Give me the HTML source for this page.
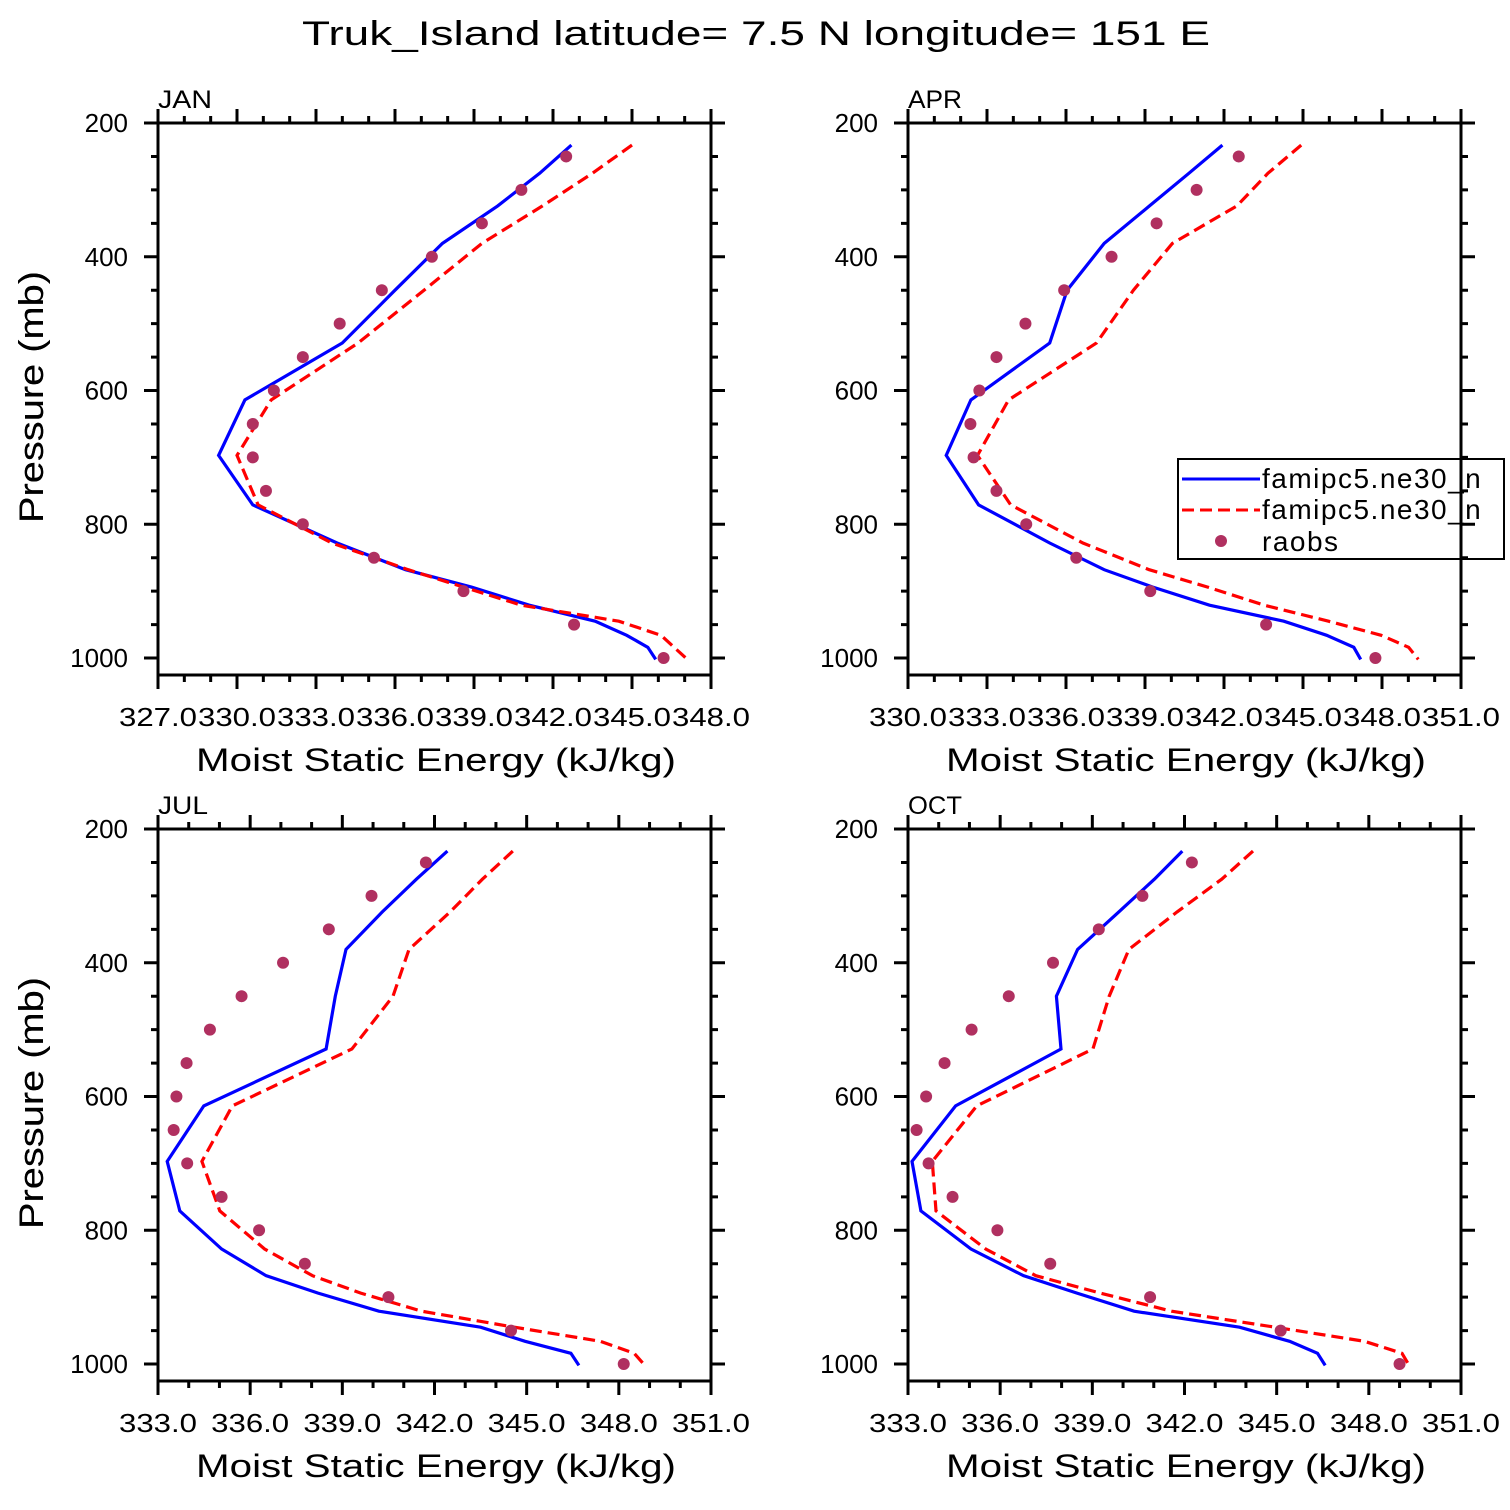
<!DOCTYPE html>
<html><head><meta charset="utf-8"><style>
html,body{margin:0;padding:0;background:#fff}
svg{display:block}
text{font-family:"Liberation Sans","DejaVu Sans",sans-serif;fill:#000}
</style></head><body>
<svg id="chart" width="1510" height="1510" viewBox="0 0 1510 1510" xmlns="http://www.w3.org/2000/svg">
<text x="302" y="45" font-size="34" textLength="908" lengthAdjust="spacingAndGlyphs">Truk_Island  latitude= 7.5 N longitude= 151 E</text>
<g id="plots"></g>
</svg>
<script>
const modelLevels=[233,275,324,380,450,529,614,697,771,828,868,894,921,945,966,984,1002];
const obsLevels=[250,300,350,400,450,500,550,600,650,700,750,800,850,900,950,1000];
const panelNames=["JAN","APR","JUL","OCT"];
const janBlue=[342.7,341.5,339.9,337.8,336.0,334.0,330.3,329.3,330.6,333.8,336.4,338.9,341.1,343.6,344.8,345.6,345.9];
const janRed=[345.0,343.5,341.6,339.3,337.1,334.6,331.3,330.0,330.8,333.6,336.5,338.6,340.8,344.5,346.1,346.6,347.1];
const janObs=[342.5,340.8,339.3,337.4,335.5,333.9,332.5,331.4,330.6,330.6,331.1,332.5,335.2,338.6,342.8,346.2];
const aprBlue=[341.94,340.67,339.17,337.45,336.04,335.38,332.39,331.45,332.68,335.38,337.45,339.30,341.45,344.27,345.90,346.93,347.19];
const aprRed=[344.93,343.67,342.49,340.04,338.56,337.16,333.82,332.64,333.90,336.64,339.16,341.38,343.53,345.97,347.97,349.01,349.38];
const aprObs=[342.56,340.96,339.44,337.73,335.93,334.46,333.36,332.71,332.37,332.49,333.36,334.49,336.39,339.20,343.60,347.75];
const julBlue=[342.42,341.41,340.30,339.12,338.77,338.47,334.49,333.30,333.71,335.07,336.52,338.21,340.19,343.50,344.95,346.44,346.70];
const julRed=[344.55,343.56,342.51,341.17,340.65,339.31,335.42,334.43,335.01,336.47,338.03,339.60,341.58,344.60,347.40,348.50,348.85];
const julObs=[341.72,339.95,338.56,337.07,335.72,334.69,333.93,333.60,333.51,333.95,335.07,336.29,337.78,340.50,344.49,348.16];
const octBlue=[341.93,341.02,339.86,338.52,337.83,337.98,334.55,333.13,333.42,335.05,336.76,338.50,340.36,343.79,345.42,346.33,346.58];
const octRed=[344.23,343.21,341.76,340.19,339.55,339.02,335.24,333.79,333.91,335.53,337.16,339.26,341.58,344.95,347.86,349.08,349.31];
const octObs=[342.24,340.63,339.21,337.72,336.28,335.07,334.19,333.59,333.28,333.67,334.45,335.91,337.63,340.88,345.13,349.00];
const xMins=[327,330,333,333];
const xMaxs=[348,351,351,351];
const yTickLabels=[200,400,600,800,1000];
const legendLabels=["famipc5.ne30_n","famipc5.ne30_n","raobs"];

const NS="http://www.w3.org/2000/svg";
const root=document.getElementById('plots');
function mk(tag,attrs,parent){const e=document.createElementNS(NS,tag);for(const k in attrs)e.setAttribute(k,attrs[k]);(parent||root).appendChild(e);return e;}
const blues=[janBlue,aprBlue,julBlue,octBlue],reds=[janRed,aprRed,julRed,octRed],obs=[janObs,aprObs,julObs,octObs];
const origins=[[158,123],[908,123],[158,829],[908,829]];
const W=553,H=552,pTop=200,pBot=1025.4;

for(let i=0;i<4;i++){
  const [ox,oy]=origins[i];
  const xmin=xMins[i],xmax=xMaxs[i];
  const X=v=>ox+(v-xmin)/(xmax-xmin)*W;
  const Y=p=>oy+(p-pTop)/(pBot-pTop)*H;
  const g=mk('g',{});
  
  
  const lab=mk('text',{x:ox,y:oy-15,'font-size':25,textLength:panelNames[i]==='JUL'?50:54,lengthAdjust:'spacingAndGlyphs'},g);lab.textContent=panelNames[i];
  
  
  let d='';
  for(let v=xmin;v<=xmax+1e-6;v+=1){
    const major=Math.abs((v-xmin)%3)<1e-6; const L=major?14:7; const x=X(v);
    d+=`M${x},${oy+H}v${L}M${x},${oy}v${-L}`;
  }
  for(let p=200;p<=1000;p+=50){
    const major=p%200===0; const L=major?14:7; const y=Y(p);
    d+=`M${ox},${y}h${-L}M${ox+W},${y}h${L}`;
  }
  const tk=mk('path',{d:d,stroke:'#000','stroke-width':3,fill:'none'},g);
  
  
  const box=mk('rect',{x:ox,y:oy,width:W,height:H,fill:'none',stroke:'#000','stroke-width':3},g);
  
  
  for(let v=xmin;v<=xmax+1e-6;v+=3){
    const t=mk('text',{x:X(v)-39,y:oy+H+51,'font-size':26,textLength:78,lengthAdjust:'spacingAndGlyphs'},g);
    t.textContent=v.toFixed(1);
    
    
  }
  yTickLabels.forEach(p=>{
    const t=mk('text',{x:ox-30,y:Y(p)+9,'font-size':26,'text-anchor':'end'},g);
    t.textContent=p;
    
    
  });
  const xt=mk('text',{x:ox+38,y:oy+H+96,'font-size':32,textLength:480,lengthAdjust:'spacingAndGlyphs'},g);
  xt.textContent='Moist Static Energy (kJ/kg)';
  
  
  const ytX=43,ytY=oy+H/2-2;
  const yt=mk('text',{x:ytX,y:ytY,'font-size':34,'text-anchor':'middle',transform:`rotate(-90 ${ytX} ${ytY})`,textLength:252,lengthAdjust:'spacingAndGlyphs'},g);
  yt.textContent='Pressure (mb)';
  
  
  const pts=a=>a.map((v,k)=>X(v).toFixed(1)+','+Y(modelLevels[k]).toFixed(1)).join(' ');
  const bl=mk('polyline',{points:pts(blues[i]),fill:'none',stroke:'#0000ff','stroke-width':3.2},g);
  
  
  const rl=mk('polyline',{points:pts(reds[i]),fill:'none',stroke:'#ff0000','stroke-width':3.2,'stroke-dasharray':'12,6'},g);
  
  
  obs[i].forEach((v,k)=>{
    const c=mk('circle',{cx:X(v),cy:Y(obsLevels[k]),r:6,fill:'#b03060'},g);
    
    
  });
}
const lg=mk('g',{});


mk('path',{d:'M1178,459H1504V559H1178Z',fill:'none',stroke:'#000','stroke-width':2},lg);
mk('line',{x1:1182,y1:479,x2:1260,y2:479,stroke:'#0000ff','stroke-width':3},lg);
mk('line',{x1:1182,y1:510,x2:1260,y2:510,stroke:'#ff0000','stroke-width':3,'stroke-dasharray':'12,6'},lg);
mk('circle',{cx:1221,cy:541,r:6,fill:'#b03060'},lg);
[488,519,551].forEach((y,k)=>{
  const t=mk('text',{x:1262,y:y,'font-size':28,'letter-spacing':'1.5'},lg);
  t.textContent=legendLabels[k];
  
  
});
</script>
</body></html>
